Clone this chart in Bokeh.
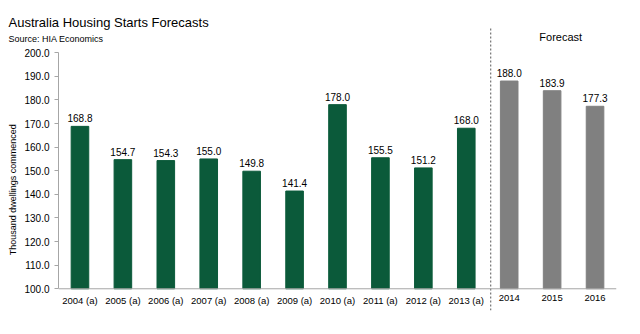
from bokeh.plotting import figure
from bokeh.models import FactorRange, Range1d, Label, ColumnDataSource, FixedTicker, Span, NumeralTickFormatter
from bokeh.core.properties import value
from bokeh.embed import file_html
from bokeh.resources import INLINE

years = ["2004 (a)", "2005 (a)", "2006 (a)", "2007 (a)", "2008 (a)", "2009 (a)",
         "2010 (a)", "2011 (a)", "2012 (a)", "2013 (a)", "2014", "2015", "2016"]
starts = [168.8, 154.7, 154.3, 155.0, 149.8, 141.4, 178.0, 155.5, 151.2, 168.0,
          188.0, 183.9, 177.3]
is_forecast = [False] * 10 + [True] * 3
y_ticks = [100, 110, 120, 130, 140, 150, 160, 170, 180, 190, 200]

GREEN = "#0b5a3a"
GREY = "#808080"
FONT = "Liberation Sans"

src = ColumnDataSource(dict(
    x=years, top=starts,
    color=[GREY if f else GREEN for f in is_forecast],
    label=["%.1f" % v for v in starts],
    base=[y_ticks[0]] * len(years),
))

p = figure(width=640, height=334, x_range=FactorRange(*years, range_padding=0),
           y_range=Range1d(90.8, 211.1), output_backend="svg", toolbar_location=None,
           min_border_left=58, min_border_right=24, min_border_top=26, min_border_bottom=24)
p.outline_line_color = None
p.xgrid.visible = False
p.ygrid.visible = False
p.xaxis.visible = False

ya = p.yaxis[0]
ya.bounds = (y_ticks[0], y_ticks[-1])
ya.ticker = FixedTicker(ticks=y_ticks)
ya.formatter = NumeralTickFormatter(format="0.0")
ya.axis_line_color = "#a6a6a6"
ya.major_tick_line_color = "#a6a6a6"
ya.major_tick_out = 4
ya.major_tick_in = 0
ya.minor_tick_line_color = None
ya.major_label_text_font = FONT
ya.major_label_text_font_size = "10px"
ya.major_label_text_color = "#000000"
ya.major_label_standoff = 5
ya.axis_label = "Thousand dwellings commenced" + "\u00a0" * 17
ya.axis_label_text_font = FONT
ya.axis_label_text_font_style = "normal"
ya.axis_label_text_font_size = "9px"
ya.axis_label_text_color = "#000000"
ya.axis_label_standoff = 3

p.vbar(x="x", top="top", bottom="base", width=0.41, color="color", source=src)

p.add_layout(Span(location=y_ticks[0], dimension="width", line_color="#a6a6a6", line_width=1))

p.text(x="x", y="top", text="label", source=src, text_align="center", text_baseline="bottom",
       y_offset=-4, text_font=value(FONT), text_font_size="10px", text_color="#000000")
p.text(x="x", y="base", text="x", source=src, text_align="center", text_baseline="top",
       y_offset=6, text_font=value(FONT), text_font_size="9.5px", text_color="#000000")

p.segment(x0=[10.07], x1=[10.07], y0=[90.8], y1=[211.1], line_color="#555555",
          line_dash="2 2", line_width=1)

p.add_layout(Label(x=11.7, y=206.5, text="Forecast", text_align="center", text_baseline="middle",
                   text_font=FONT, text_font_size="11px", text_color="#000000"))

p.add_layout(Label(x=-50, y=4, x_units="screen", y_units="screen",
                   text="Australia Housing Starts Forecasts", text_font=FONT,
                   text_font_size="13px", text_color="#000000", text_baseline="alphabetic"), "above")
p.add_layout(Label(x=-50, y=-27, x_units="screen", y_units="screen",
                   text="Source: HIA Economics", text_font=FONT,
                   text_font_size="9px", text_color="#000000", text_baseline="alphabetic"), "above")

open("out.html", "w").write(file_html(p, INLINE))
